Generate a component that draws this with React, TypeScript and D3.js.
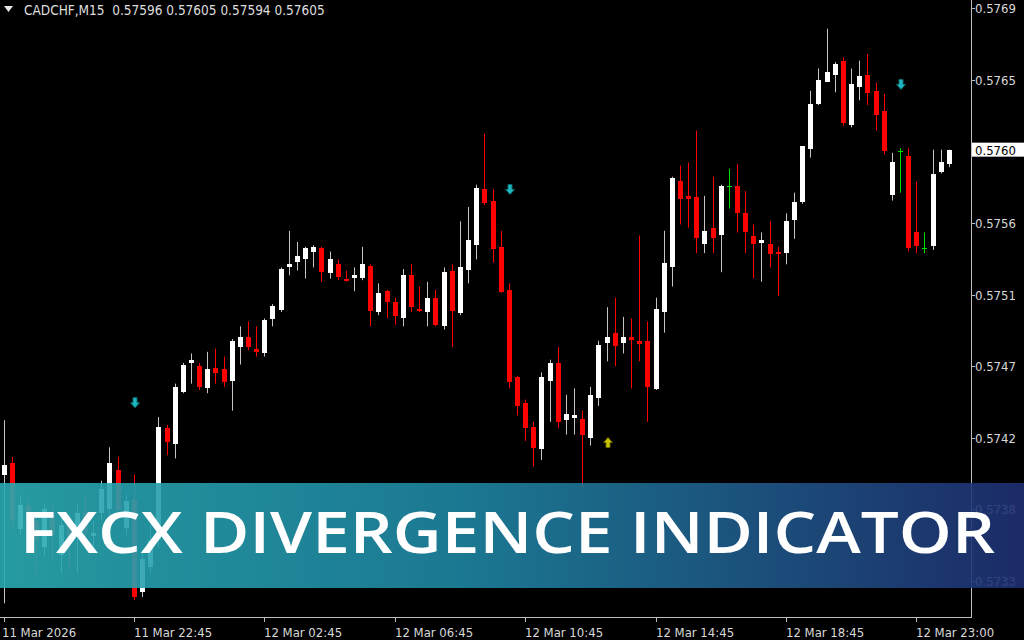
import React from "react";
import * as d3 from "d3";

const symbolTitle = "CADCHF,M15  0.57596 0.57605 0.57594 0.57605";
const bannerTitle = "FXCX DIVERGENCE INDICATOR";

const opens = [
  0.57401, 0.57408, 0.57367, 0.57382, 0.57372, 0.57355, 0.57377, 0.5735, 0.57369, 0.57364,
  0.57377, 0.57362, 0.57377, 0.57379, 0.57404, 0.57367, 0.57385, 0.57327, 0.57343, 0.5736,
  0.5743, 0.5742, 0.57453, 0.57471, 0.57469, 0.57455, 0.57468, 0.57467, 0.5746, 0.57481,
  0.57487, 0.5748, 0.57477, 0.57499, 0.57504, 0.57531, 0.57534, 0.57536, 0.57541, 0.57543,
  0.57527, 0.57533, 0.57524, 0.57524, 0.57524, 0.57532, 0.57503, 0.57516, 0.57509, 0.57499,
  0.57526, 0.57505, 0.57503, 0.57512, 0.57494, 0.57529, 0.57502, 0.57529, 0.57545, 0.5758,
  0.57573, 0.57544, 0.57517, 0.57462, 0.57446, 0.57431, 0.57417, 0.5746, 0.57471, 0.57435,
  0.57436, 0.57436, 0.57424, 0.57449, 0.57483, 0.5749, 0.57483, 0.57487, 0.57485, 0.57485,
  0.57455, 0.57503, 0.57531, 0.57585, 0.57576, 0.57575, 0.57546, 0.57556, 0.57551, 0.57582,
  0.57582, 0.57565, 0.57551, 0.57546, 0.57546, 0.57541, 0.5754, 0.57561, 0.57572, 0.57606,
  0.57634, 0.57648, 0.57652, 0.57661, 0.5762, 0.57644, 0.57652, 0.57642, 0.57629, 0.57576,
  0.57604, 0.57601, 0.57553, 0.57543, 0.57545, 0.57591, 0.57596,
];
const highs = [
  0.57435, 0.57412, 0.57387, 0.57385, 0.57379, 0.57382, 0.57382, 0.57375, 0.57375, 0.57382,
  0.57388, 0.57372, 0.57397, 0.57418, 0.57412, 0.57388, 0.57401, 0.57353, 0.57369, 0.57437,
  0.57432, 0.57458, 0.57471, 0.57477, 0.57471, 0.57478, 0.5748, 0.57475, 0.57486, 0.57494,
  0.57497, 0.57494, 0.57499, 0.57508, 0.57531, 0.57554, 0.57547, 0.57544, 0.57545, 0.57544,
  0.57541, 0.57536, 0.57529, 0.57531, 0.57544, 0.57533, 0.57521, 0.57517, 0.57512, 0.5753,
  0.57533, 0.57519, 0.57522, 0.57517, 0.57531, 0.57533, 0.5756, 0.57569, 0.57583, 0.57615,
  0.5758, 0.57554, 0.57521, 0.57463, 0.57448, 0.57434, 0.57465, 0.57473, 0.57481, 0.57451,
  0.57455, 0.57441, 0.57456, 0.57485, 0.57506, 0.57512, 0.575, 0.57499, 0.57551, 0.57497,
  0.57512, 0.57554, 0.57588, 0.57595, 0.57597, 0.57617, 0.57576, 0.57588, 0.57583, 0.57593,
  0.57596, 0.57579, 0.57558, 0.57553, 0.5756, 0.57544, 0.57565, 0.57578, 0.57607, 0.57642,
  0.57656, 0.57681, 0.5766, 0.57663, 0.57656, 0.57661, 0.57665, 0.57647, 0.5764, 0.57603,
  0.57606, 0.57606, 0.57585, 0.57553, 0.57605, 0.57605, 0.57605,
];
const lows = [
  0.5732, 0.57366, 0.57363, 0.5736, 0.57338, 0.5735, 0.57347, 0.57339, 0.57341, 0.57339,
  0.57357, 0.57355, 0.57372, 0.57375, 0.57372, 0.57363, 0.57322, 0.57324, 0.57338, 0.57355,
  0.57413, 0.57411, 0.57452, 0.57458, 0.57454, 0.57452, 0.57458, 0.57456, 0.57441, 0.5747,
  0.57479, 0.57475, 0.57475, 0.57494, 0.57503, 0.57526, 0.57529, 0.57524, 0.57531, 0.57522,
  0.57524, 0.57523, 0.57522, 0.57516, 0.57523, 0.57494, 0.57501, 0.57499, 0.57495, 0.57494,
  0.57503, 0.57503, 0.57494, 0.57494, 0.57492, 0.57481, 0.57501, 0.57521, 0.57536, 0.5757,
  0.57534, 0.57515, 0.57455, 0.57438, 0.57422, 0.57406, 0.5741, 0.57434, 0.5743, 0.57426,
  0.57426, 0.57391, 0.57419, 0.57444, 0.57472, 0.57469, 0.57477, 0.57455, 0.57472, 0.57434,
  0.57454, 0.5749, 0.57519, 0.57558, 0.57556, 0.5754, 0.5754, 0.5754, 0.57528, 0.57568,
  0.57553, 0.5754, 0.57524, 0.57522, 0.57531, 0.57513, 0.57533, 0.57549, 0.57571, 0.576,
  0.57633, 0.57648, 0.57641, 0.5762, 0.57619, 0.57636, 0.57633, 0.57617, 0.57602, 0.57573,
  0.57578, 0.57541, 0.5754, 0.5754, 0.57542, 0.5759, 0.57594,
];
const closes = [
  0.57407, 0.57372, 0.57382, 0.57372, 0.5736, 0.57379, 0.57363, 0.57369, 0.5736, 0.57377,
  0.57366, 0.57364, 0.57392, 0.57408, 0.57379, 0.57384, 0.57324, 0.57348, 0.5736, 0.57431,
  0.57421, 0.57456, 0.5747, 0.57473, 0.57456, 0.57467, 0.57465, 0.57459, 0.57485, 0.57487,
  0.57481, 0.57478, 0.57498, 0.57507, 0.5753, 0.57533, 0.57538, 0.57543, 0.57544, 0.57528,
  0.57536, 0.57525, 0.57523, 0.57526, 0.57533, 0.57504, 0.57515, 0.57509, 0.575, 0.57526,
  0.57506, 0.57504, 0.57512, 0.57495, 0.57528, 0.57504, 0.57531, 0.57548, 0.57581, 0.57571,
  0.57543, 0.57516, 0.57459, 0.57444, 0.5743, 0.57418, 0.57462, 0.57471, 0.57434, 0.57439,
  0.57438, 0.57426, 0.57451, 0.57482, 0.57487, 0.57482, 0.57487, 0.57485, 0.57483, 0.57456,
  0.57505, 0.57534, 0.57587, 0.57574, 0.57574, 0.57549, 0.57554, 0.5755, 0.57582, 0.57582,
  0.57565, 0.57553, 0.57546, 0.57548, 0.5754, 0.5754, 0.5756, 0.57572, 0.57607, 0.57634,
  0.57649, 0.57654, 0.57659, 0.57622, 0.57646, 0.57651, 0.57641, 0.57627, 0.57604, 0.57597,
  0.57604, 0.57543, 0.57544, 0.57543, 0.5759, 0.57597, 0.57605,
];

const priceTicks = [0.57694, 0.57649, 0.57604, 0.57559, 0.57514, 0.57469, 0.57424, 0.57379, 0.57334];
const currentPrice = 0.57605;

const timeTickBars = [0, 16, 32, 48, 64, 80, 96, 112];
const timeTickLabels = [
  "11 Mar 2026", "11 Mar 22:45", "12 Mar 02:45", "12 Mar 06:45",
  "12 Mar 10:45", "12 Mar 14:45", "12 Mar 18:45", "12 Mar 23:00",
];

const sellArrowBars = [16, 62, 110];
const sellArrowPrices = [0.57446, 0.5758, 0.57646];
const buyArrowBars = [74];
const buyArrowPrices = [0.57421];

const FONT = "'DejaVu Sans Condensed', 'DejaVu Sans', sans-serif";

export default function App() {
  const plotRight = 971;
  const plotBottom = 617;
  const x = d3.scaleLinear().domain([0, 116]).range([3.5, 948.9]);
  const y = d3.scaleLinear().domain([0.57694, 0.57334]).range([8, 581]);

  const candles = opens.map((o, i) => {
    const c = closes[i];
    const h = highs[i];
    const l = lows[i];
    const cx = Math.round(x(i));
    const yo = y(o);
    const yc = y(c);
    const yh = y(h);
    const yl = y(l);
    const doji = o === c;
    const bull = c > o;
    const top = Math.round(Math.min(yo, yc));
    const bh = Math.max(1, Math.round(Math.abs(yo - yc)));
    if (doji) {
      return (
        <g key={i}>
          <line x1={cx + 0.5} x2={cx + 0.5} y1={yh} y2={yl} stroke="#00e000" strokeWidth={1} />
          <line x1={cx - 2} x2={cx + 3} y1={Math.round(yo) + 0.5} y2={Math.round(yo) + 0.5} stroke="#00e000" strokeWidth={1} />
        </g>
      );
    }
    const col = bull ? "#ffffff" : "#ff0000";
    const wickCol = bull ? "#c4c4c4" : "#ff0000";
    return (
      <g key={i}>
        <line x1={cx + 0.5} x2={cx + 0.5} y1={yh} y2={yl} stroke={wickCol} strokeWidth={1} />
        <rect x={cx - 2} y={top} width={5} height={bh} fill={col} />
      </g>
    );
  });

  const downArrow = (cx: number, cy: number, key: string) => (
    <path
      key={key}
      d={`M${cx - 1.5},${cy - 5} h4 v5 h2.5 l-4.5,5 l-4.5,-5 h2.5 z`}
      fill="#20b8c0"
      stroke="#0b6c72"
      strokeWidth={1}
    />
  );
  const upArrow = (cx: number, cy: number, key: string) => (
    <path
      key={key}
      d={`M${cx - 1.5},${cy + 5} h4 v-5 h2.5 l-4.5,-5 l-4.5,5 h2.5 z`}
      fill="#c8c400"
      stroke="#6e6a00"
      strokeWidth={1}
    />
  );

  return (
    <svg
      width={1024}
      height={640}
      style={{ position: "fixed", left: 0, top: 0, display: "block", background: "#000" }}
    >
      <defs>
        <clipPath id="plotClip">
          <rect x={0} y={0} width={plotRight} height={plotBottom} />
        </clipPath>
        <linearGradient id="bannerGrad" x1="0" x2="1" y1="0" y2="0">
          <stop offset="0%" stopColor="#2aabb3" />
          <stop offset="45%" stopColor="#1e86a2" />
          <stop offset="100%" stopColor="#1f2f72" />
        </linearGradient>
      </defs>
      <rect x={0} y={0} width={1024} height={640} fill="#000" />

      <g clipPath="url(#plotClip)">{candles}</g>

      {sellArrowBars.map((b, i) => downArrow(Math.round(x(b)) + 0.5, y(sellArrowPrices[i]), "s" + i))}
      {buyArrowBars.map((b, i) => upArrow(Math.round(x(b)) + 0.5, y(buyArrowPrices[i]), "b" + i))}

      {/* header */}
      <path d="M4,6 L13,6 L8.5,12 Z" fill="#e8e8e8" />
      <text x={24} y={15} fill="#dedede" fontSize={13.5} fontFamily={FONT} style={{ whiteSpace: "pre" }}>
        {symbolTitle}
      </text>

      {/* axes */}
      <line x1={plotRight + 0.5} x2={plotRight + 0.5} y1={0} y2={plotBottom + 1} stroke="#bdbdbd" strokeWidth={1} />
      <line x1={0} x2={plotRight + 1} y1={plotBottom + 0.5} y2={plotBottom + 0.5} stroke="#bdbdbd" strokeWidth={1} />

      {priceTicks.map((p, i) => (
        <g key={"pt" + i}>
          <line x1={plotRight} x2={plotRight + 4} y1={Math.round(y(p)) + 0.5} y2={Math.round(y(p)) + 0.5} stroke="#bdbdbd" />
          <text x={975} y={y(p) + 5} fill="#d8d8d8" fontSize={13} fontFamily={FONT}>
            {p.toFixed(4)}
          </text>
        </g>
      ))}

      <g>
        <rect x={plotRight + 1} y={y(currentPrice) - 7} width={1024 - plotRight - 1} height={14} fill="#ffffff" />
        <text x={975} y={y(currentPrice) + 5} fill="#000" fontSize={13} fontFamily={FONT}>
          {currentPrice.toFixed(4)}
        </text>
      </g>

      {timeTickBars.map((b, i) => {
        const tx = Math.round(x(b));
        return (
          <g key={"tt" + i}>
            <line x1={tx + 0.5} x2={tx + 0.5} y1={plotBottom} y2={plotBottom + 5} stroke="#bdbdbd" />
            <text x={i === 0 ? 2 : tx} y={637} fill="#d8d8d8" fontSize={13} fontFamily={FONT}>
              {timeTickLabels[i]}
            </text>
          </g>
        );
      })}

      {/* banner */}
      <rect x={0} y={483} width={1024} height={105} fill="url(#bannerGrad)" opacity={0.9} />
      <text
        x={20}
        y={553}
        fill="#ffffff"
        fontSize={58}
        fontWeight={600}
        fontFamily="'Open Sans', Lato, sans-serif"
        textLength={975}
        lengthAdjust="spacingAndGlyphs"
      >
        {bannerTitle}
      </text>
    </svg>
  );
}
